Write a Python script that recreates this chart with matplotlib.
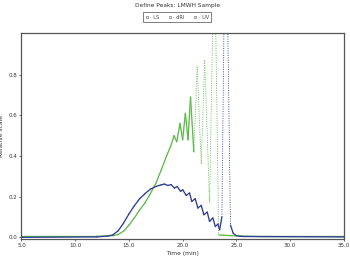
import matplotlib
matplotlib.use("Agg")
import matplotlib.pyplot as plt
import numpy as np
from matplotlib.collections import LineCollection
from matplotlib.lines import Line2D

# --- data ---
blue_t = [5, 12, 12.5, 13, 13.5, 14, 14.5, 15, 15.5, 16, 16.5, 17, 17.5, 18.0, 18.3, 18.6,
          18.93, 19.23, 19.49, 19.8, 20.0, 20.33, 20.64, 20.85, 21.17, 21.41, 21.73, 21.97,
          22.29, 22.5, 22.81, 23.04, 23.28, 23.44, 23.65, 24.0, 24.45, 24.7, 25.0, 25.5, 35]
blue_v = [0.0, 0.002, 0.004, 0.006, 0.012, 0.032, 0.07, 0.115, 0.155, 0.19, 0.215, 0.237,
          0.25, 0.258, 0.262, 0.255, 0.259, 0.242, 0.25, 0.226, 0.234, 0.206, 0.218, 0.176,
          0.19, 0.144, 0.157, 0.111, 0.124, 0.078, 0.095, 0.053, 0.065, 0.037, 0.1, 1.8,
          0.06, 0.02, 0.008, 0.004, 0.002]

green_t = [5, 12, 13, 13.5, 14, 14.5, 15, 15.5, 16, 16.5, 17, 17.5, 18, 18.5, 18.9, 19.2,
           19.45, 19.75, 20.0, 20.25, 20.5, 20.73, 21.04, 21.35, 21.73, 22.05, 22.5, 22.95,
           23.35, 23.8, 24.5, 25.5, 27, 35]
green_v = [0.005, 0.005, 0.006, 0.008, 0.014, 0.03, 0.06, 0.095, 0.135, 0.17, 0.215, 0.265,
           0.33, 0.40, 0.45, 0.50, 0.47, 0.56, 0.48, 0.61, 0.48, 0.69, 0.42, 0.84, 0.36, 0.87,
           0.17, 1.5, 0.012, 0.01, 0.008, 0.006, 0.004, 0.004]

x_ticks = [5, 10, 15, 20, 25, 30, 35]
y_ticks = [0.0, 0.2, 0.4, 0.6, 0.8]
legend_labels = ["\u00b7 LS", "\u00b7 dRI", "\u00b7 UV"]

BLUE = "#2e3d94"
GREEN = "#5cb94a"

fig = plt.figure(figsize=(3.5, 2.63), dpi=100)
ax = fig.add_axes([0.0614, 0.090, 0.921, 0.7845])
ax.set_xlim(5, 35)
ax.set_ylim(-0.01, 1.005)


def draw(ax, t, v, color):
    t = np.asarray(t, float)
    v = np.asarray(v, float)
    pts = ax.transData.transform(np.column_stack([t, v]))
    segs = np.stack([np.column_stack([t[:-1], v[:-1]]), np.column_stack([t[1:], v[1:]])], axis=1)
    dx = np.abs(np.diff(pts[:, 0])) + 1e-9
    dy = np.abs(np.diff(pts[:, 1]))
    steep = dy / dx > 20
    solid = LineCollection(segs[~steep], colors=color, linewidths=0.95, capstyle="round",
                           joinstyle="round")
    dotted = LineCollection(segs[steep], colors=color, linewidths=0.6, linestyles=(0, (1.2, 1.6)))
    ax.add_collection(solid)
    ax.add_collection(dotted)


draw(ax, green_t, green_v, GREEN)
draw(ax, blue_t, blue_v, BLUE)

ax.set_xticks(x_ticks)
ax.set_xticklabels([f"{x:.1f}" for x in x_ticks])
ax.set_yticks(y_ticks)
ax.set_yticklabels([f"{y:.1f}" for y in y_ticks])
ax.tick_params(labelsize=4, length=1.5, width=0.5, pad=1.5, colors="#333333")
for s in ax.spines.values():
    s.set_color("#555555")
    s.set_linewidth(0.9)

ax.set_xlabel("Time (min)", fontsize=4.3, labelpad=2, color="#333333")
ax.set_ylabel("Relative scale", fontsize=4.3, labelpad=3, color="#333333")

fig.text(0.506, 0.99, "Define Peaks: LMWH Sample", ha="center", va="top", fontsize=4.2,
         color="#333333")

handles = [Line2D([], [], linestyle="none", marker="s", markersize=1.8, markerfacecolor="white",
                  markeredgecolor="#555555", markeredgewidth=0.4) for _ in legend_labels]
leg = fig.legend(handles, legend_labels, loc="center", bbox_to_anchor=(0.506, 0.934), ncol=3,
                 fontsize=3.6, frameon=True, fancybox=False, edgecolor="#444444",
                 handlelength=0.6, handletextpad=0.4, columnspacing=1.8, borderpad=0.5,
                 labelcolor="#444444")
leg.get_frame().set_linewidth(0.6)

fig.savefig("out.png", dpi=100)
